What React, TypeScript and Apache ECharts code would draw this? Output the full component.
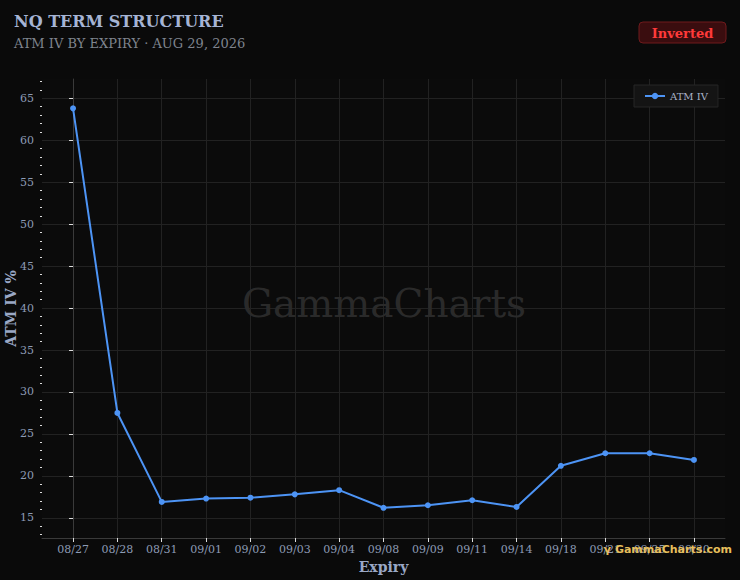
import React, { useEffect, useRef } from "react";
import * as echarts from "echarts";

const categories = ["08/27", "08/28", "08/31", "09/01", "09/02", "09/03", "09/04", "09/08", "09/09", "09/11", "09/14", "09/18", "09/21", "09/25", "09/30"];
const atmIV = [63.8, 27.5, 16.9, 17.3, 17.4, 17.8, 18.3, 16.2, 16.5, 17.1, 16.3, 21.2, 22.7, 22.7, 21.9];
const yTicks = [15, 20, 25, 30, 35, 40, 45, 50, 55, 60, 65];
const yMinorTicks = [13, 14, 16, 17, 18, 19, 21, 22, 23, 24, 26, 27, 28, 29, 31, 32, 33, 34, 36, 37, 38, 39, 41, 42, 43, 44, 46, 47, 48, 49, 51, 52, 53, 54, 56, 57, 58, 59, 61, 62, 63, 64, 66, 67];
const xIndex = categories.map((_, i) => i);

const FONT = "DejaVu Serif";

export default function App() {
  const ref = useRef<HTMLDivElement>(null);
  useEffect(() => {
    if (!ref.current) return;
    const chart = echarts.init(ref.current, undefined, { renderer: "svg" });
    const points = categories.map((_, i) => [i, atmIV[i]]);
    chart.setOption({
      animation: false,
      backgroundColor: "#0a0a0a",
      textStyle: { fontFamily: FONT },
      grid: {
        left: 42,
        right: 15,
        top: 79,
        bottom: 42,
        containLabel: false,
        outerBoundsMode: "none",
        show: true,
        backgroundColor: "#0b0b0b",
        borderWidth: 0,
      },
      legend: {
        data: ["ATM IV"],
        left: 634,
        top: 85,
        padding: [6, 10, 6, 10],
        itemWidth: 20,
        itemHeight: 8,
        itemGap: 5,
        backgroundColor: "#141414",
        borderColor: "#262626",
        borderWidth: 1,
        textStyle: { color: "#a9b3c8", fontSize: 10, fontFamily: FONT },
      },
      xAxis: {
        type: "value",
        min: -0.7,
        max: 14.7,
        splitNumber: 15,
        name: "Expiry",
        nameLocation: "middle",
        nameGap: 20,
        nameTextStyle: { color: "#9aa8c6", fontSize: 14, fontWeight: "bold", fontFamily: FONT },
        axisLine: { show: true, lineStyle: { color: "#3a3a3a" } },
        axisTick: { show: true, customValues: xIndex, length: 4, lineStyle: { color: "#dddddd" } },
        axisLabel: {
          customValues: xIndex,
          formatter: (v: number) => categories[Math.round(v)] ?? "",
          color: "#8d9bb5",
          fontSize: 11,
          fontFamily: FONT,
          margin: 6,
        },
        splitLine: { show: true, lineStyle: { color: "#222222", width: 1 } },
      },
      yAxis: [
        {
          type: "value",
          min: 12.6,
          max: 67.3,
          splitNumber: 10,
          name: "ATM IV %",
          nameLocation: "middle",
          nameGap: 24,
          nameMoveOverlap: false,
          nameRotate: 90,
          nameTextStyle: { color: "#9aa8c6", fontSize: 14, fontWeight: "bold", fontFamily: FONT },
          axisLine: { show: true, lineStyle: { color: "#3a3a3a" } },
          axisTick: { show: true, customValues: yTicks, length: 4, lineStyle: { color: "#dddddd" } },
          axisLabel: {
            customValues: yTicks,
            color: "#8d9bb5",
            fontSize: 11,
            fontFamily: FONT,
            margin: 8,
          },
          splitLine: { show: true, lineStyle: { color: "#222222", width: 1 } },
        },
        {
          type: "value",
          min: 12.6,
          max: 67.3,
          position: "left",
          offset: 0,
          axisLine: { show: false },
          axisTick: { show: true, customValues: yMinorTicks, length: 2, lineStyle: { color: "#dddddd" } },
          axisLabel: { show: false },
          splitLine: { show: false },
        },
      ],
      graphic: [
        {
          type: "text",
          left: 14,
          top: 13,
          style: { text: "NQ TERM STRUCTURE", fill: "#a5b4d4", font: `bold 16px "${FONT}"` },
        },
        {
          type: "text",
          left: 14,
          top: 37,
          style: { text: "ATM IV BY EXPIRY · AUG 29, 2026", fill: "#7f848e", font: `13px "${FONT}"` },
        },
        {
          type: "rect",
          shape: { x: 639, y: 22, width: 87, height: 21, r: 4 },
          style: { fill: "#3a0d0f", stroke: "#6e1a1c", lineWidth: 1 },
        },
        {
          type: "text",
          x: 682.5,
          y: 33,
          style: {
            text: "Inverted",
            fill: "#ff3a3a",
            font: `bold 13px "${FONT}"`,
            align: "center",
            verticalAlign: "middle",
          },
        },
        {
          type: "text",
          x: 384,
          y: 303,
          z: 1,
          silent: true,
          style: {
            text: "GammaCharts",
            fill: "#2a2a2a",
            font: `39px "${FONT}"`,
            align: "center",
            verticalAlign: "middle",
          },
        },
        {
          type: "text",
          x: 732,
          y: 549,
          z: 100,
          style: {
            text: "γ GammaCharts.com",
            fill: "#e6bf5c",
            font: `bold 11px "DejaVu Sans"`,
            align: "right",
            verticalAlign: "middle",
          },
        },
      ],
      series: [
        {
          name: "ATM IV",
          type: "line",
          z: 5,
          data: points,
          symbol: "circle",
          symbolSize: 6,
          itemStyle: { color: "#4d94f5" },
          lineStyle: { color: "#4d94f5", width: 2 },
        },
      ],
    });
    return () => chart.dispose();
  }, []);
  return <div ref={ref} style={{ width: 740, height: 580, position: "absolute", left: 0, top: 0 }} />;
}
